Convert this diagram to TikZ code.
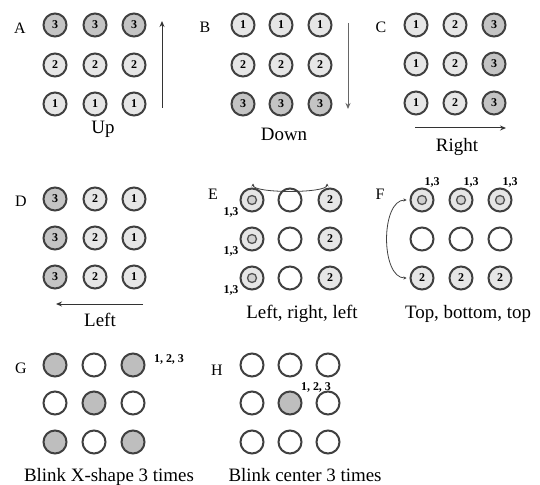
\documentclass[tikz,border=0pt]{standalone}
\usepackage{fontspec}
\setmainfont{Liberation Serif}
\usetikzlibrary{arrows.meta}
\definecolor{dk}{HTML}{C4C4C4}
\definecolor{lt}{HTML}{E6E6E6}
\definecolor{gx}{HTML}{BEBEBE}
\definecolor{ring}{HTML}{404040}
\tikzset{
  dot/.style={circle, draw=ring, line width=2bp, minimum size=23bp, inner sep=0pt,
    font=\fontsize{12}{12}\selectfont\bfseries},
  d3/.style={dot, fill=dk},
  d1/.style={dot, fill=lt},
  d0/.style={dot, fill=white},
  dg/.style={dot, fill=gx},
  inring/.style={circle, draw=ring!90, line width=1.3bp, minimum size=9bp, inner sep=0pt, fill=lt!80!gray},
  lab/.style={anchor=base, font=\fontsize{19}{19}\selectfont, inner sep=0pt},
  letter/.style={anchor=base, font=\fontsize{16}{16}\selectfont, inner sep=0pt},
  small/.style={font=\fontsize{12}{12}\selectfont\bfseries, inner sep=0pt},
  arr/.style={line width=1bp, draw=black!80, -{Stealth[length=6bp,width=5bp]}},
  arc/.style={line width=0.8bp, draw=black!75, {Stealth[length=3bp,width=3bp]}-{Stealth[length=3bp,width=3bp]}}
}
\begin{document}
\begin{tikzpicture}[x=1bp,y=-1bp]
\useasboundingbox (0,0) rectangle (540,485);
% ---------- A ----------
\node[letter] (LA) at (20,34) {A};
\foreach \c [count=\i] in {55,95,134} {
  \node[d3] (A1\i) at (\c,25) {3};
  \node[d1] (A2\i) at (\c,65) {2};
  \node[d1] (A3\i) at (\c,104) {1};
}
\coordinate (Aa) at (162,108);
\coordinate (Ab) at (162,21);
\draw[arr] (Aa) -- (Ab);
\node[lab] (TA) at (103,134) {Up};
% ---------- B ----------
\node[letter] (LB) at (205,33) {B};
\foreach \c [count=\i] in {243,281,320} {
  \node[d1] (B1\i) at (\c,25) {1};
  \node[d1] (B2\i) at (\c,65) {2};
  \node[d3] (B3\i) at (\c,104) {3};
}
\coordinate (Ba) at (348,23);
\coordinate (Bb) at (348,109);
\draw[arr, draw=black!60] (Ba) -- (Bb);
\node[lab] (TB) at (284,141) {Down};
% ---------- C ----------
\node[letter] (LC) at (381,33) {C};
\foreach \r [count=\j] in {25,64,103} {
  \node[d1] (C\j1) at (416,\r) {1};
  \node[d1] (C\j2) at (455,\r) {2};
  \node[d3] (C\j3) at (494,\r) {3};
}
\coordinate (Ca) at (415,128);
\coordinate (Cb) at (506,128);
\draw[arr] (Ca) -- (Cb);
\node[lab] (TC) at (457,152) {Right};
% ---------- D ----------
\node[letter] (LD) at (21,207) {D};
\foreach \r [count=\j] in {199,238,277} {
  \node[d3] (D\j1) at (55,\r) {3};
  \node[d1] (D\j2) at (95,\r) {2};
  \node[d1] (D\j3) at (134,\r) {1};
}
\coordinate (Da) at (143,304);
\coordinate (Db) at (56,304);
\draw[arr] (Da) -- (Db);
\node[lab] (TD) at (100,326) {Left};
% ---------- E ----------
\node[letter] (LE) at (213,200) {E};
\foreach \r [count=\j] in {200,239,278} {
  \node[d1] (E\j1) at (252,\r) {};
  \node[inring] (E\j1i) at (E\j1) {};
  \node[d0] (E\j2) at (290,\r) {};
  \node[d1] (E\j3) at (330,\r) {2};
  \node[small, anchor=center] (E\j n) at (231,\r+12) {1,3};
}
\draw[arc] ([xshift=1bp,yshift=4bp]E11.north) .. controls +(0,10) and +(0,10) .. ([xshift=-3bp,yshift=4bp]E13.north);
\node[lab] (TE) at (302,318) {Left, right, left};
% ---------- F ----------
\node[letter] (LF) at (380,200) {F};
\foreach \c [count=\i] in {422,461,500} {
  \node[d1] (F1\i) at (\c,200) {};
  \node[inring] (F1\i i) at (F1\i) {};
  \node[d0] (F2\i) at (\c,239) {};
  \node[d1] (F3\i) at (\c,278) {2};
  \node[small, anchor=center] (F\i n) at (\c+10,182) {1,3};
}
\draw[arc] ([xshift=-3bp]F11.west) .. controls +(-26,0) and +(-26,0) .. ([xshift=-3bp]F31.west);
\node[lab] (TF) at (468,318) {Top, bottom, top};
% ---------- G ----------
\node[letter] (LG) at (21,373) {G};
\node[dg] (G11) at (55,365) {};
\node[d0] (G12) at (94,365) {};
\node[dg] (G13) at (133,365) {};
\node[d0] (G21) at (55,403) {};
\node[dg] (G22) at (94,403) {};
\node[d0] (G23) at (133,403) {};
\node[dg] (G31) at (55,442) {};
\node[d0] (G32) at (94,442) {};
\node[dg] (G33) at (133,442) {};
\node[small, anchor=center] (Gn) at (169,359) {1, 2, 3};
\node[lab] (TG) at (109,481) {Blink X-shape 3 times};
% ---------- H ----------
\node[letter] (LH) at (217,375) {H};
\foreach \c [count=\i] in {252,290,328} {
  \node[d0] (H1\i) at (\c,365) {};
  \node[d0] (H3\i) at (\c,442) {};
}
\node[d0] (H21) at (252,403) {};
\node[dg] (H22) at (290,403) {};
\node[d0] (H23) at (328,403) {};
\node[small, anchor=center] (Hn) at (316,387) {1, 2, 3};
\node[lab] (TH) at (305,481) {Blink center 3 times};
\end{tikzpicture}
\end{document}
